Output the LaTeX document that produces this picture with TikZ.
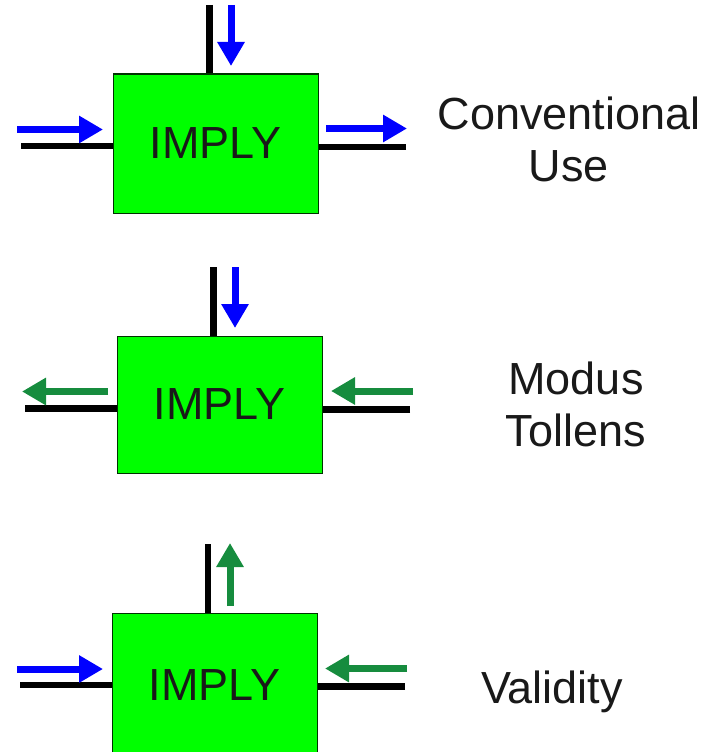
\documentclass[tikz,border=0pt]{standalone}
\usepackage{fontspec}
\setmainfont{Liberation Sans}
\usetikzlibrary{arrows.meta}
\definecolor{backgreen}{RGB}{22,140,62}
\definecolor{inktext}{RGB}{25,25,25}

\begin{document}
\begin{tikzpicture}[
    x=1pt, y=-1pt,
    gate/.style={draw=black!80!green, line width=1pt, fill=green, minimum width=205pt,
                 minimum height=139pt, inner sep=0pt, text=inktext,
                 font=\fontsize{45}{50}\selectfont},
    wire/.style={line width=6.5pt},
    fwd/.style={draw=blue, line width=7pt, -{Triangle[length=24pt, width=26pt]}},
    bwd/.style={draw=backgreen, line width=7pt, -{Triangle[length=24pt, width=26pt]}},
    caption/.style={align=center, inner sep=0pt, text=inktext,
                    font=\fontsize{45}{52}\selectfont}
]
    \clip (0,0) rectangle (724,752);
    \useasboundingbox (0,0) rectangle (724,752);

    % 1. Conventional Use
    \node[gate] (g1) at (215.5,143.5) {IMPLY};
    \coordinate (t1) at (209.5,5);
    \coordinate (l1) at (21,146);
    \coordinate (r1) at (406,147);
    \draw[wire] (t1) -- (t1 |- g1.north);
    \draw[wire] (l1) -- (l1 -| g1.west);
    \draw[wire] (r1) -- (r1 -| g1.east);
    \coordinate (a1) at (231,5);    \coordinate (b1) at (231,66);
    \coordinate (c1) at (17,129.5); \coordinate (d1) at (103,129.5);
    \coordinate (e1) at (326,128.5);\coordinate (f1) at (407,128.5);
    \draw[fwd] (a1) -- (b1);
    \draw[fwd] (c1) -- (d1);
    \draw[fwd] (e1) -- (f1);
    \node[caption] (n1) at (569,139) {Conventional\\Use};

    % 2. Modus Tollens
    \node[gate, minimum height=137pt] (g2) at (219.5,404.5) {IMPLY};
    \coordinate (t2) at (213.5,267);
    \coordinate (l2) at (25,408.5);
    \coordinate (r2) at (410,409.5);
    \draw[wire] (t2) -- (t2 |- g2.north);
    \draw[wire] (l2) -- (l2 -| g2.west);
    \draw[wire] (r2) -- (r2 -| g2.east);
    \coordinate (a2) at (235,267);   \coordinate (b2) at (235,328);
    \coordinate (c2) at (108,391.5); \coordinate (d2) at (22,391.5);
    \coordinate (e2) at (413,391);   \coordinate (f2) at (331,391);
    \draw[fwd] (a2) -- (b2);
    \draw[bwd] (c2) -- (d2);
    \draw[bwd] (e2) -- (f2);
    \node[caption] (n2) at (576,404) {Modus\\Tollens};

    % 3. Validity (box runs off the bottom edge)
    \node[gate, minimum height=145pt] (g3) at (214.5,685.5) {IMPLY};
    \coordinate (t3) at (208,544);
    \coordinate (l3) at (20,685);
    \coordinate (r3) at (405,686.5);
    \draw[wire] (t3) -- (t3 |- g3.north);
    \draw[wire] (l3) -- (l3 -| g3.west);
    \draw[wire] (r3) -- (r3 -| g3.east);
    \coordinate (a3) at (230,606);   \coordinate (b3) at (230,543);
    \coordinate (c3) at (17,669);    \coordinate (d3) at (103,669);
    \coordinate (e3) at (407,668.5); \coordinate (f3) at (325,668.5);
    \draw[bwd] (a3) -- (b3);
    \draw[fwd] (c3) -- (d3);
    \draw[bwd] (e3) -- (f3);
    \node[caption, anchor=base] (n3) at (552,703) {Validity};

\end{tikzpicture}
\end{document}
